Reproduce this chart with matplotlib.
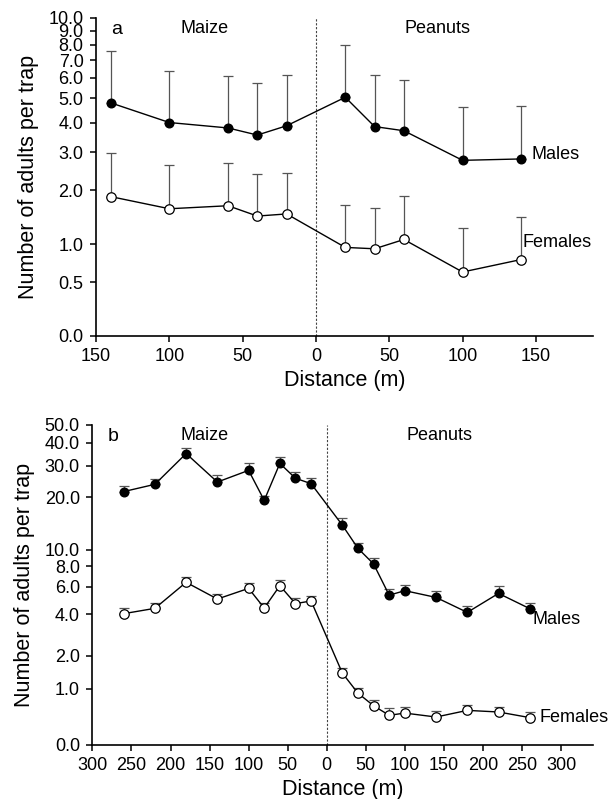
import numpy as np
import matplotlib
matplotlib.use("Agg")
import matplotlib.pyplot as plt
from matplotlib.ticker import FixedLocator, FuncFormatter

plt.rcParams["font.family"] = ["Liberation Sans", "DejaVu Sans"]
plt.rcParams["font.size"] = 13

# -----------------------------
# Data
# -----------------------------
# panel a: negative distance = into maize, positive = into peanuts
dist_a = [-140, -100, -60, -40, -20, 20, 40, 60, 100, 140]
males_a = [4.8, 4.0, 3.8, 3.55, 3.88, 5.05, 3.85, 3.7, 2.76, 2.8]
males_a_top = [7.6, 6.4, 6.1, 5.75, 6.15, 8.0, 6.15, 5.9, 4.63, 4.68]
females_a = [1.86, 1.61, 1.67, 1.47, 1.51, 0.95, 0.93, 1.07, 0.62, 0.78]
females_a_top = [2.97, 2.62, 2.69, 2.4, 2.42, 1.69, 1.63, 1.88, 1.25, 1.46]

# panel b
dist_b = [-260, -220, -180, -140, -100, -80, -60, -40, -20,
          20, 40, 60, 80, 100, 140, 180, 220, 260]
males_b = [21.5, 23.6, 34.9, 24.3, 28.2, 19.2, 30.8, 25.5, 23.8,
           13.9, 10.2, 8.25, 5.3, 5.66, 5.13, 4.1, 5.44, 4.34]
males_b_top = [23.1, 25.4, 37.6, 26.5, 30.8, 20.3, 33.4, 27.7, 25.7,
               15.2, 11.0, 8.9, 5.83, 6.17, 5.66, 4.54, 6.03, 4.75]
females_b = [4.02, 4.36, 6.38, 5.01, 5.85, 4.38, 6.08, 4.68, 4.87,
             1.42, 0.89, 0.62, 0.44, 0.48, 0.41, 0.53, 0.50, 0.40]
females_b_top = [4.36, 4.72, 6.88, 5.42, 6.32, 4.72, 6.56, 5.06, 5.26,
                 1.56, 1.02, 0.73, 0.57, 0.59, 0.51, 0.63, 0.60, 0.50]

yticks_a = [0, 0.5, 1, 2, 3, 4, 5, 6, 7, 8, 9, 10]
yticks_b = [0, 1, 2, 4, 6, 8, 10, 20, 30, 40, 50]
xticks_a = [-150, -100, -50, 0, 50, 100, 150]
xticks_b = [-300, -250, -200, -150, -100, -50, 0, 50, 100, 150, 200, 250, 300]


def fwd(y):
    return np.log10(np.maximum(y, -0.99) + 1)


def inv(y):
    return 10 ** y - 1


def draw_panel(ax, dist, m, m_top, f, f_top, xlim, ylim, yticks, xticks):
    ax.set_yscale("function", functions=(fwd, inv))
    m_err = [np.zeros(len(m)), np.array(m_top) - np.array(m)]
    f_err = [np.zeros(len(f)), np.array(f_top) - np.array(f)]
    ax.errorbar(dist, m, yerr=m_err, fmt="none", ecolor="#555555",
                elinewidth=0.9, capsize=3.5, capthick=0.9, zorder=2)
    ax.errorbar(dist, f, yerr=f_err, fmt="none", ecolor="#555555",
                elinewidth=0.9, capsize=3.5, capthick=0.9, zorder=2)
    ax.plot(dist, m, "-o", color="black", lw=1.0, ms=6.2,
            mfc="black", mec="black", zorder=3)
    ax.plot(dist, f, "-o", color="black", lw=1.0, ms=6.8,
            mfc="white", mec="black", mew=0.9, zorder=3)
    ax.axvline(0, color="#444444", lw=0.8, ls=(0, (2, 1.5)), zorder=1)

    ax.set_xlim(*xlim)
    ax.set_ylim(*ylim)
    ax.yaxis.set_major_locator(FixedLocator(yticks))
    ax.yaxis.set_minor_locator(FixedLocator([]))
    ax.yaxis.set_major_formatter(FuncFormatter(lambda v, p: "%.1f" % v))
    ax.set_xticks(xticks)
    ax.set_xticklabels([str(abs(t)) for t in xticks])

    for s in ["top", "right"]:
        ax.spines[s].set_visible(False)
    for s in ["left", "bottom"]:
        ax.spines[s].set_linewidth(1.2)
    ax.tick_params(direction="out", length=4.5, width=1.1, labelsize=13, pad=4.5)
    ax.set_ylabel("Number of adults per trap", fontsize=15.5, labelpad=7)
    ax.set_xlabel("Distance (m)", fontsize=15.5, labelpad=3)


fig = plt.figure(figsize=(6.12, 7.99), dpi=100)

# -----------------------------
# Panel a
# -----------------------------
ax1 = fig.add_axes([0.157, 0.5795, 0.812, 0.398])
draw_panel(ax1, dist_a, males_a, males_a_top, females_a, females_a_top,
           (-150, 189), (0, 10), yticks_a, xticks_a)
ax1.text(0.03, 0.99, "a", transform=ax1.transAxes, va="top", fontsize=14)
ax1.text(-76, 9.8, "Maize", ha="center", va="top", fontsize=13)
ax1.text(83, 9.8, "Peanuts", ha="center", va="top", fontsize=13)
ax1.text(147, 2.92, "Males", va="center", fontsize=13)
ax1.text(141, 1.03, "Females", va="center", fontsize=13)

# -----------------------------
# Panel b
# -----------------------------
ax2 = fig.add_axes([0.151, 0.0676, 0.818, 0.4005])
draw_panel(ax2, dist_b, males_b, males_b_top, females_b, females_b_top,
           (-300, 341), (0, 50), yticks_b, xticks_b)
ax2.text(0.03, 0.99, "b", transform=ax2.transAxes, va="top", fontsize=14)
ax2.text(-156, 49, "Maize", ha="center", va="top", fontsize=13)
ax2.text(144, 49, "Peanuts", ha="center", va="top", fontsize=13)
ax2.text(264, 3.66, "Males", va="center", fontsize=13)
ax2.text(273, 0.41, "Females", va="center", fontsize=13)

plt.savefig("out.png", dpi=100)
